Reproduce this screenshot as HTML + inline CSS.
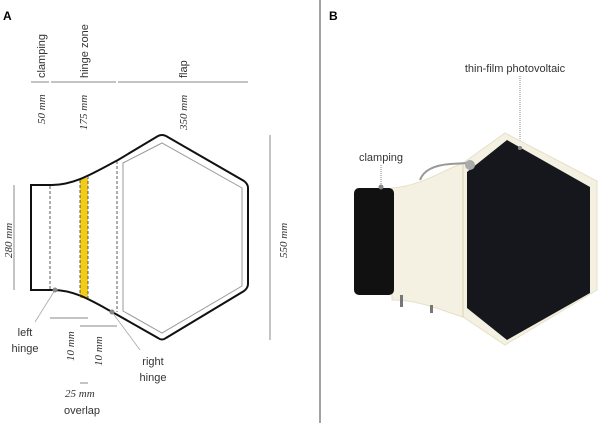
<!DOCTYPE html>
<html><head><style>body{margin:0;background:#fff}svg{display:block;font-family:"Liberation Sans",sans-serif}</style></head><body>
<svg width="600" height="423" viewBox="0 0 600 423">
<text x="3" y="20" font-size="12" font-weight="bold">A</text>
<text x="329" y="20" font-size="12" font-weight="bold">B</text>
<line x1="320" y1="0" x2="320" y2="423" stroke="#444" stroke-width="1"/>
<g font-size="11" fill="#333">
<text transform="translate(45,78) rotate(-90)">clamping</text>
<text transform="translate(88,78) rotate(-90)">hinge zone</text>
<text transform="translate(187,78) rotate(-90)">flap</text>
</g>
<g stroke="#888" stroke-width="1">
<line x1="31" y1="82" x2="49" y2="82"/><line x1="51" y1="82" x2="116" y2="82"/><line x1="118" y1="82" x2="248" y2="82"/>
<line x1="14" y1="185" x2="14" y2="290"/><line x1="270" y1="135" x2="270" y2="340"/>
<line x1="50" y1="318" x2="88" y2="318"/><line x1="80" y1="326" x2="117" y2="326"/><line x1="80" y1="383" x2="88" y2="383"/>
</g>
<g font-size="11" font-style="italic" fill="#333" font-family="Liberation Serif,serif">
<text transform="translate(45,124) rotate(-90)">50 mm</text>
<text transform="translate(87,130) rotate(-90)">175 mm</text>
<text transform="translate(187,130) rotate(-90)">350 mm</text>
<text transform="translate(12,258) rotate(-90)">280 mm</text>
<text transform="translate(287,258) rotate(-90)">550 mm</text>
<text transform="translate(74,361) rotate(-90)">10 mm</text>
<text transform="translate(102,366) rotate(-90)">10 mm</text>
<text x="65" y="397">25 mm</text>
</g>
<rect x="80" y="178" width="8" height="120" fill="#f2cc1a"/>
<path d="M31,185 L52,185 C75,185 95,172 118,160 L158,136 Q162,134 166,136 L244,181 Q248,184 248,188 L248,284 Q248,288 244,291 L166,338 Q162,341 158,338 L114,313 C92,301 75,290 53,290 L31,290 Z" fill="none" stroke="#111" stroke-width="2"/>
<path d="M123,163 L162,143 L242,188 L242,286 L162,333 L123,311 Z" fill="none" stroke="#999" stroke-width="1"/>
<g stroke="#333" stroke-dasharray="3,2" stroke-width="0.8"><line x1="50" y1="186" x2="50" y2="289"/><line x1="117" y1="161" x2="117" y2="312"/><line x1="80" y1="180" x2="80" y2="296"/><line x1="88" y1="176" x2="88" y2="298"/></g>
<line x1="55" y1="290" x2="35" y2="322" stroke="#aaa" stroke-width="0.8"/>
<line x1="112" y1="312" x2="140" y2="350" stroke="#aaa" stroke-width="0.8"/>
<circle cx="55" cy="290" r="2.5" fill="#888"/><circle cx="112" cy="312" r="2.5" fill="#888"/>
<g font-size="11" fill="#333" text-anchor="middle">
<text x="25" y="336">left</text><text x="25" y="352">hinge</text>
<text x="153" y="365">right</text><text x="153" y="381">hinge</text>
<text x="82" y="414">overlap</text>
<text x="381" y="161">clamping</text>
<text x="515" y="72">thin-film photovoltaic</text>
</g>
<line x1="520" y1="76" x2="520" y2="148" stroke="#888" stroke-dasharray="1,1"/>
<line x1="381" y1="165" x2="381" y2="187" stroke="#888" stroke-dasharray="1,1"/>
<path d="M392,188 C420,186 440,172 463,163 L505,133 L597,181 L597,290 L505,345 L463,317 C440,310 420,300 392,300 Z" fill="#f4f1e2" stroke="#e6e0c4"/>
<line x1="463" y1="163" x2="463" y2="317" stroke="#d8d2b4"/>
<path d="M467,172 L507,140 L590,187 L590,293 L507,340 L467,308 Z" fill="#15171c"/>
<rect x="354" y="188" width="40" height="107" rx="5" fill="#111"/>
<path d="M420,180 Q425,166 450,164 L468,163" fill="none" stroke="#999" stroke-width="2"/>
<circle cx="470" cy="165" r="5" fill="#aaa"/>
<circle cx="381" cy="187" r="2.5" fill="#888"/><circle cx="520" cy="148" r="2" fill="#888"/>
<rect x="400" y="295" width="3" height="12" fill="#777"/><rect x="430" y="305" width="3" height="8" fill="#777"/>
</svg></body></html>
